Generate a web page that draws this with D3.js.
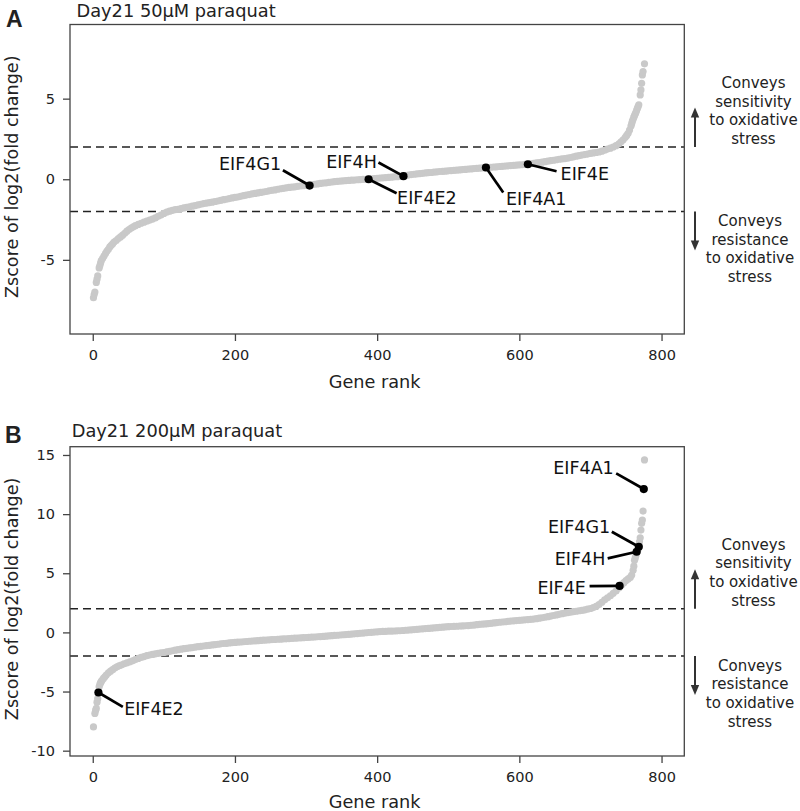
<!DOCTYPE html>
<html><head><meta charset="utf-8">
<script src="https://cdn.jsdelivr.net/npm/d3@7"></script>
<style>body{margin:0;background:#fff}svg{display:block}</style>
</head><body><svg id="c" width="800" height="811"></svg>
<script>
// ---------- data ----------
const xTicks = [0, 200, 400, 600, 800];
const yTicksA = [-5, 0, 5];
const yTicksB = [-10, -5, 0, 5, 10, 15];
const thresholds = [-2, 2];
const titleA = "Day21 50µM paraquat";
const titleB = "Day21 200µM paraquat";
const xLabel = "Gene rank";
const yLabel = "Zscore of log2(fold change)";
const sensText = ["Conveys", "sensitivity", "to oxidative", "stress"];
const resText = ["Conveys", "resistance", "to oxidative", "stress"];

// [gene rank, z-score]
const pointsA = [[1,-7.35],[2,-7.15],[3,-7.0],[5,-6.4],[6,-6.2],[7,-6.0],[9,-5.5],[10,-5.35],[11,-5.2],[12,-5.05],[14,-4.9],[16,-4.75],[18,-4.6],[20,-4.45],[22,-4.35],[24,-4.2],[26,-4.1],[28,-4.0],[30,-3.9],[33,-3.8],[36,-3.68],[39,-3.58],[42,-3.47],[45,-3.35],[48,-3.22],[51,-3.12],[54,-3.03],[57,-2.95],[60,-2.88],[64,-2.8],[68,-2.73],[72,-2.66],[76,-2.6],[80,-2.53],[84,-2.47],[88,-2.4],[92,-2.3],[96,-2.22],[100,-2.12],[104,-2.04],[108,-1.98],[112,-1.93],[116,-1.89],[120,-1.86],[124,-1.82],[128,-1.78],[132,-1.75],[136,-1.71],[140,-1.67],[144,-1.63],[148,-1.59],[152,-1.55],[156,-1.51],[160,-1.48],[164,-1.45],[168,-1.42],[172,-1.38],[176,-1.35],[180,-1.31],[184,-1.27],[188,-1.24],[192,-1.2],[196,-1.16],[200,-1.13],[204,-1.1],[208,-1.06],[212,-1.02],[216,-0.98],[220,-0.95],[224,-0.91],[228,-0.88],[232,-0.85],[236,-0.82],[240,-0.79],[244,-0.76],[248,-0.72],[252,-0.69],[256,-0.66],[260,-0.62],[264,-0.59],[268,-0.56],[272,-0.54],[276,-0.51],[280,-0.49],[284,-0.47],[288,-0.44],[292,-0.42],[296,-0.4],[300,-0.38],[304,-0.36],[308,-0.34],[312,-0.31],[316,-0.29],[320,-0.26],[324,-0.24],[328,-0.22],[332,-0.2],[336,-0.17],[340,-0.15],[344,-0.13],[348,-0.12],[352,-0.1],[356,-0.09],[360,-0.07],[364,-0.06],[368,-0.05],[372,-0.03],[376,-0.02],[380,-0.01],[384,0.0],[388,0.01],[392,0.03],[396,0.04],[400,0.06],[404,0.07],[408,0.09],[412,0.1],[416,0.12],[420,0.13],[424,0.15],[428,0.16],[432,0.18],[436,0.2],[440,0.23],[444,0.26],[448,0.29],[452,0.31],[456,0.33],[460,0.35],[464,0.37],[468,0.39],[472,0.41],[476,0.42],[480,0.44],[484,0.46],[488,0.48],[492,0.49],[496,0.5],[500,0.52],[504,0.54],[508,0.55],[512,0.57],[516,0.58],[520,0.6],[524,0.61],[528,0.63],[532,0.64],[536,0.66],[540,0.67],[544,0.69],[548,0.7],[552,0.72],[556,0.73],[560,0.74],[564,0.76],[568,0.77],[572,0.79],[576,0.8],[580,0.82],[584,0.83],[588,0.85],[592,0.86],[596,0.88],[600,0.89],[604,0.9],[608,0.92],[612,0.93],[616,0.96],[620,0.98],[624,1.01],[628,1.04],[632,1.06],[636,1.09],[640,1.12],[644,1.15],[648,1.18],[652,1.21],[656,1.24],[660,1.26],[664,1.28],[668,1.31],[672,1.35],[676,1.39],[680,1.43],[684,1.47],[688,1.5],[692,1.53],[696,1.56],[700,1.6],[704,1.63],[708,1.66],[712,1.69],[716,1.74],[720,1.8],[724,1.87],[728,1.93],[732,2.0],[736,2.08],[740,2.2],[743,2.32],[746,2.45],[749,2.6],[751,2.72],[753,2.85],[755,3.05],[757,3.3],[758,3.45],[759,3.6],[760,3.72],[761,3.85],[762,3.95],[763,4.05],[764,4.15],[765,4.28],[766,4.4],[767,4.5],[768,4.62],[770,5.23],[771,5.54],[772,5.95],[773,6.47],[774,6.68],[776,7.16]];

// [gene rank, z-score]
const pointsB = [[1,-7.99],[3,-6.85],[4,-6.6],[5,-6.43],[6,-5.9],[7,-5.6],[8,-5.08],[9,-4.6],[10,-4.4],[11,-4.25],[12,-4.15],[13,-4.05],[15,-3.89],[17,-3.75],[19,-3.6],[22,-3.42],[25,-3.28],[28,-3.15],[31,-3.02],[34,-2.91],[37,-2.83],[40,-2.76],[44,-2.66],[48,-2.57],[52,-2.49],[56,-2.4],[60,-2.3],[64,-2.2],[68,-2.12],[72,-2.04],[76,-1.97],[80,-1.91],[84,-1.86],[88,-1.81],[92,-1.77],[96,-1.73],[100,-1.7],[104,-1.65],[108,-1.6],[112,-1.55],[116,-1.5],[120,-1.46],[124,-1.42],[128,-1.38],[132,-1.35],[136,-1.31],[140,-1.28],[144,-1.24],[148,-1.21],[152,-1.18],[156,-1.15],[160,-1.12],[164,-1.09],[168,-1.06],[172,-1.03],[176,-1.0],[180,-0.97],[184,-0.94],[188,-0.92],[192,-0.89],[196,-0.87],[200,-0.85],[204,-0.83],[208,-0.81],[212,-0.79],[216,-0.77],[220,-0.75],[224,-0.73],[228,-0.71],[232,-0.7],[236,-0.68],[240,-0.66],[244,-0.65],[248,-0.63],[252,-0.61],[256,-0.6],[260,-0.58],[264,-0.57],[268,-0.55],[272,-0.54],[276,-0.52],[280,-0.51],[284,-0.49],[288,-0.48],[292,-0.46],[296,-0.45],[300,-0.43],[304,-0.42],[308,-0.4],[312,-0.39],[316,-0.37],[320,-0.35],[324,-0.34],[328,-0.32],[332,-0.3],[336,-0.28],[340,-0.26],[344,-0.24],[348,-0.22],[352,-0.2],[356,-0.18],[360,-0.16],[364,-0.14],[368,-0.12],[372,-0.1],[376,-0.08],[380,-0.06],[384,-0.03],[388,-0.01],[392,0.01],[396,0.03],[400,0.05],[404,0.07],[408,0.08],[412,0.09],[416,0.1],[420,0.11],[424,0.12],[428,0.13],[432,0.14],[436,0.16],[440,0.18],[444,0.2],[448,0.22],[452,0.24],[456,0.26],[460,0.28],[464,0.3],[468,0.32],[472,0.34],[476,0.36],[480,0.38],[484,0.4],[488,0.42],[492,0.44],[496,0.46],[500,0.48],[504,0.5],[508,0.51],[512,0.52],[516,0.54],[520,0.55],[524,0.56],[528,0.58],[532,0.6],[536,0.62],[540,0.65],[544,0.68],[548,0.7],[552,0.72],[556,0.74],[560,0.77],[564,0.8],[568,0.83],[572,0.86],[576,0.88],[580,0.9],[584,0.93],[588,0.96],[592,0.98],[596,1.0],[600,1.02],[604,1.04],[608,1.06],[612,1.08],[616,1.1],[620,1.13],[624,1.16],[628,1.2],[632,1.24],[636,1.28],[640,1.33],[644,1.38],[648,1.43],[652,1.48],[656,1.53],[660,1.58],[664,1.63],[668,1.67],[672,1.71],[676,1.75],[680,1.79],[684,1.83],[688,1.86],[692,1.91],[696,1.96],[700,2.02],[704,2.1],[708,2.2],[712,2.35],[716,2.55],[720,2.75],[724,2.92],[728,3.1],[732,3.3],[736,3.5],[740,3.75],[744,4.02],[747,4.2],[750,4.38],[753,4.52],[756,4.65],[758,4.85],[760,5.25],[761,5.6],[762,6.1],[763,6.3],[764,6.5],[765,6.75],[767,7.0],[768,7.3],[769,7.66],[770,8.0],[771,8.65],[772,9.22],[773,9.5],[774,10.26],[775,12.12],[776,14.58]];

const genesA = ["EIF4G1", "EIF4H", "EIF4E2", "EIF4A1", "EIF4E"];
const geneRankA = [305, 437, 388, 553, 612];
const geneZA = [-0.39, 0.19, 0.0, 0.73, 0.93];
const genesB = ["EIF4E2", "EIF4A1", "EIF4G1", "EIF4H", "EIF4E"];
const geneRankB = [8, 775, 768, 765, 741];
const geneZB = [-5.08, 12.12, 7.24, 6.82, 3.93];

// ---------- layout ----------
const FONT = "'DejaVu Sans', Verdana, sans-serif";
const X0 = 70, X1 = 684.3;
const xDomain = [-32, 832];
const gray = "#c9c9c9";
const axisColor = "#444";

const panels = [
  {letter: "A", letterX: 6, letterY: 26.5, title: titleA, titleX: 76.5, titleY: 16.5,
   top: 24.5, bottom: 334, yDomain: [-9.6, 9.6], yTicks: yTicksA, points: pointsA,
   genes: genesA, ranks: geneRankA, zs: geneZA, sensX: 753.5, resX: 750,
   labels: {
     EIF4G1: {lx: -26.7, ly: -15.3, tx: -28.5, ty: -15.3, a: "end"},
     EIF4H:  {lx: -25,   ly: -13.7, tx: -26.6, ty: -8.3,  a: "end"},
     EIF4E2: {lx: 28,    ly: 14,    tx: 28.5,  ty: 24.3,  a: "start"},
     EIF4A1: {lx: 17.3,  ly: 25,    tx: 20,    ty: 37.7,  a: "start"},
     EIF4E:  {lx: 28.7,  ly: 7,     tx: 32.7,  ty: 16,    a: "start"}
   }},
  {letter: "B", letterX: 5, letterY: 443.3, title: titleB, titleX: 71.7, titleY: 437,
   top: 446.7, bottom: 756, yDomain: [-10.45, 15.7], yTicks: yTicksB, points: pointsB,
   genes: genesB, ranks: geneRankB, zs: geneZB, sensX: 753.5, resX: 750,
   labels: {
     EIF4E2: {lx: 24.4,  ly: 14.4,  tx: 25.7,  ty: 22.7, a: "start"},
     EIF4A1: {lx: -27.6, ly: -15.7, tx: -30,   ty: -15,  a: "end"},
     EIF4G1: {lx: -27,   ly: -15,   tx: -28.6, ty: -14,  a: "end"},
     EIF4H:  {lx: -29,   ly: 6.6,   tx: -31.3, ty: 13.3, a: "end"},
     EIF4E:  {lx: -30,   ly: 0.3,   tx: -33.7, ty: 7.6,  a: "end"}
   }}
];

const svg = d3.select("#c");
const x = d3.scaleLinear().domain(xDomain).range([X0, X1]);

panels.forEach(p => {
  const y = d3.scaleLinear().domain(p.yDomain).range([p.bottom, p.top]);
  const g = svg.append("g");

  // panel letter & title
  g.append("text").attr("x", p.letterX).attr("y", p.letterY)
    .attr("font-family", "'Liberation Sans', Arial, sans-serif").attr("font-weight", "bold")
    .attr("font-size", 23).attr("fill", "#222").text(p.letter);
  g.append("text").attr("x", p.titleX).attr("y", p.titleY)
    .attr("font-family", FONT).attr("font-size", 17.8).attr("fill", "#222").text(p.title);

  // dashed thresholds
  g.selectAll("line.thr").data(thresholds).join("line").attr("class", "thr")
    .attr("x1", X0).attr("x2", X1).attr("y1", d => y(d)).attr("y2", d => y(d))
    .attr("stroke", "#222").attr("stroke-width", 1.5).attr("stroke-dasharray", "8,5");

  // gray points
  g.append("g").selectAll("circle").data(p.points).join("circle")
    .attr("cx", d => x(d[0])).attr("cy", d => y(d[1])).attr("r", 3.6).attr("fill", gray);

  // labelled genes
  p.genes.forEach((name, i) => {
    const cx = x(p.ranks[i]), cy = y(p.zs[i]);
    const L = p.labels[name];
    g.append("line").attr("x1", cx).attr("y1", cy).attr("x2", cx + L.lx).attr("y2", cy + L.ly)
      .attr("stroke", "#000").attr("stroke-width", 2.7);
    g.append("circle").attr("cx", cx).attr("cy", cy).attr("r", 4.1).attr("fill", "#000");
    g.append("text").attr("x", cx + L.tx).attr("y", cy + L.ty).attr("text-anchor", L.a)
      .attr("font-family", FONT).attr("font-size", 17.5).attr("fill", "#111").text(name);
  });

  // frame
  g.append("rect").attr("x", X0).attr("y", p.top).attr("width", X1 - X0).attr("height", p.bottom - p.top)
    .attr("fill", "none").attr("stroke", axisColor).attr("stroke-width", 1.3);

  // axes
  const xa = g.append("g").attr("transform", `translate(0,${p.bottom})`)
    .call(d3.axisBottom(x).tickValues(xTicks).tickSize(7).tickPadding(9).tickFormat(d => String(d)));
  const ya = g.append("g").attr("transform", `translate(${X0},0)`)
    .call(d3.axisLeft(y).tickValues(p.yTicks).tickSize(7).tickPadding(8).tickFormat(d => String(d)));
  [xa, ya].forEach(a => {
    a.select(".domain").remove();
    a.selectAll(".tick line").attr("stroke", axisColor).attr("stroke-width", 1.3);
    a.selectAll(".tick text").attr("font-family", FONT).attr("font-size", 14.5).attr("fill", "#222");
  });

  // axis titles
  g.append("text").attr("x", (X0 + X1) / 2 - 2.5).attr("y", Math.min(p.bottom + 54.3, 808)).attr("text-anchor", "middle")
    .attr("font-family", FONT).attr("font-size", 17.7).attr("fill", "#222").text(xLabel);
  g.append("text").attr("transform", `translate(17.5,${(p.top + p.bottom) / 2 - 2.5}) rotate(-90)`)
    .attr("text-anchor", "middle").attr("font-family", FONT).attr("font-size", 17.6)
    .attr("fill", "#222").text(yLabel);

  // arrows
  const ax = 695;
  const arrow = (y0, y1) => {
    const dir = y1 < y0 ? -1 : 1;
    g.append("line").attr("x1", ax).attr("x2", ax).attr("y1", y0).attr("y2", y1 - dir * 8)
      .attr("stroke", "#333").attr("stroke-width", 2);
    g.append("path").attr("d", `M${ax - 4.2},${y1 - dir * 10}L${ax + 4.2},${y1 - dir * 10}L${ax},${y1}Z`)
      .attr("fill", "#333");
  };
  arrow(y(2), y(2) - 39.5);
  arrow(y(-2), y(-2) + 39);

  // annotation text
  g.append("g").selectAll("text").data(sensText).join("text")
    .attr("x", p.sensX).attr("y", (d, i) => y(2) - 59 + i * 18.7).attr("text-anchor", "middle")
    .attr("font-family", FONT).attr("font-size", 15).attr("fill", "#222").text(d => d);
  g.append("g").selectAll("text").data(resText).join("text")
    .attr("x", p.resX).attr("y", (d, i) => y(-2) + 14.6 + i * 18.7).attr("text-anchor", "middle")
    .attr("font-family", FONT).attr("font-size", 15).attr("fill", "#222").text(d => d);
});
</script>
</body></html>
